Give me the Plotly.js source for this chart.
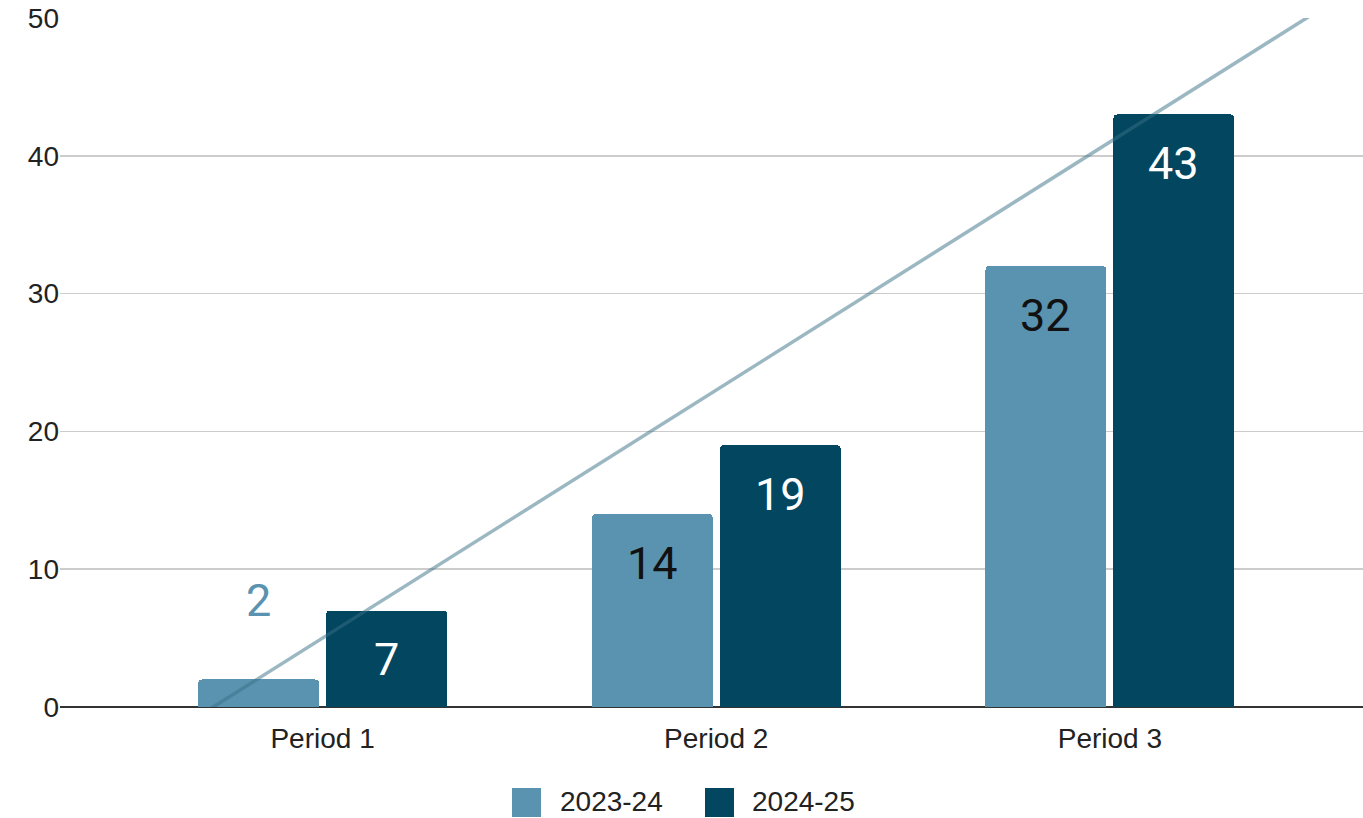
<!DOCTYPE html>
<html>
<head>
<meta charset="utf-8">
<script src="https://cdn.plot.ly/plotly-3.0.1.min.js"></script>
<style>html,body{margin:0;padding:0;background:#fff;}#chart{width:1363px;height:818px;}</style>
</head>
<body>
<div id="chart"></div>
<script>
const categories = ["Period 1", "Period 2", "Period 3"];
const seriesNames = ["2023-24", "2024-25"];
const values2324 = [2, 14, 32];
const values2425 = [7, 19, 43];
const yTicks = [0, 10, 20, 30, 40, 50];

const lightColor = "#5a93b0";
const darkColor = "#03465f";
const FONT = "'Liberation Sans', Arial, sans-serif";
const LABEL_FONT = "Roboto, 'Liberation Sans', Arial, sans-serif";

const xIdx = categories.map((c, i) => i + 1);
const barW = 0.307;
const offLight = -0.316, offDark = 0.009;
const xRange = [0.333, 3.643];

// linear trendline (least squares) of the 2024-25 series, as in the source
const n = xIdx.length;
const mx = xIdx.reduce((a, b) => a + b, 0) / n;
const my = values2425.reduce((a, b) => a + b, 0) / n;
let sxy = 0, sxx = 0;
for (let i = 0; i < n; i++) { sxy += (xIdx[i] - mx) * (values2425[i] - my); sxx += (xIdx[i] - mx) ** 2; }
const slope = sxy / sxx, intercept = my - slope * mx;
const trendX = xRange;
const trendY = trendX.map(x => intercept + slope * x);

const traces = [
  {type: "bar", name: seriesNames[0], x: xIdx, y: values2324, width: barW, offset: offLight,
   marker: {color: lightColor, cornerradius: 4}, hoverinfo: "none", showlegend: false},
  {type: "bar", name: seriesNames[1], x: xIdx, y: values2425, width: barW, offset: offDark,
   marker: {color: darkColor, cornerradius: 4}, hoverinfo: "none", showlegend: false},
  {type: "scatter", mode: "lines", x: trendX, y: trendY, line: {color: "#376f86", width: 3.5},
   opacity: 0.5, hoverinfo: "none", showlegend: false}
];

const annotations = [];
function addLabels(vals, off, insideColor) {
  vals.forEach((v, i) => {
    const outside = v < 5;
    annotations.push({
      x: xIdx[i] + off + barW / 2, y: v, xref: "x", yref: "y",
      text: String(v), showarrow: false, xanchor: "center", yanchor: "middle",
      yshift: outside ? 79 : -49,
      font: {family: LABEL_FONT, size: 45, color: outside ? lightColor : insideColor}
    });
  });
}
addLabels(values2324, offLight, "#111111");
addLabels(values2425, offDark, "#ffffff");

// legend (drawn manually to match the large square swatches)
const W = 1303, H = 689, L = 60, T = 707;
const px = v => (v - L) / W, py = v => (T - v) / H;
const shapes = [
  {type: "rect", xref: "paper", yref: "paper", x0: px(512), x1: px(541), y0: py(817), y1: py(788),
   fillcolor: lightColor, line: {width: 0}},
  {type: "rect", xref: "paper", yref: "paper", x0: px(705), x1: px(734), y0: py(817), y1: py(788),
   fillcolor: darkColor, line: {width: 0}}
];
annotations.push({xref: "paper", yref: "paper", x: px(559), y: py(801), xanchor: "left", yanchor: "middle",
  text: seriesNames[0], showarrow: false, borderpad: 0, font: {family: FONT, size: 28, color: "#222222"}});
annotations.push({xref: "paper", yref: "paper", x: px(751), y: py(801), xanchor: "left", yanchor: "middle",
  text: seriesNames[1], showarrow: false, borderpad: 0, font: {family: FONT, size: 28, color: "#222222"}});

const layout = {
  width: 1363, height: 818,
  margin: {l: 60, r: 0, t: 18, b: 111},
  paper_bgcolor: "#ffffff", plot_bgcolor: "#ffffff",
  showlegend: false,
  font: {family: FONT, size: 28, color: "#222222"},
  xaxis: {range: xRange, tickvals: xIdx, ticktext: categories, showgrid: false, zeroline: false,
          ticks: "", ticklen: 0, ticklabelstandoff: 12, showline: false,
          tickfont: {family: FONT, size: 28, color: "#222222"}, fixedrange: true},
  yaxis: {range: [0, 50], tickvals: yTicks, showgrid: true, gridcolor: "#cccccc", gridwidth: 1.5,
          zeroline: true, zerolinecolor: "#333333", zerolinewidth: 2, ticks: "", ticklen: 0,
          tickfont: {family: FONT, size: 28, color: "#222222"}, fixedrange: true},
  bargap: 0,
  shapes: shapes,
  annotations: annotations
};

Plotly.newPlot("chart", traces, layout, {displayModeBar: false, staticPlot: true});
</script>
</body>
</html>
